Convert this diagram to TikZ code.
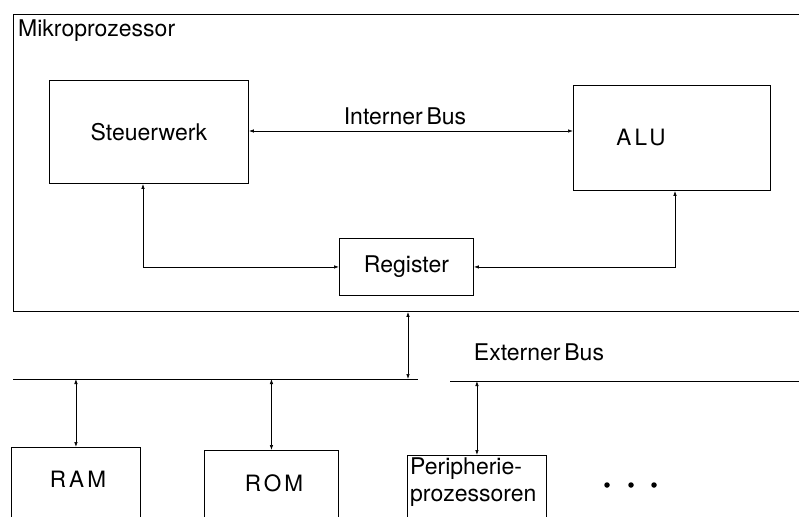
\documentclass[tikz,border=0pt]{standalone}
\usepackage{fontspec}
\setmainfont{TeX Gyre Heros}
\usetikzlibrary{arrows.meta}
\begin{document}
\begin{tikzpicture}[x=1pt,y=-1pt,
  box/.style={draw, line width=0.9pt, inner sep=0pt, anchor=north west},
  conn/.style={line width=0.7pt, {Latex[length=5pt,width=3.5pt]}-{Latex[length=5pt,width=3.5pt]}},
  busline/.style={line width=0.9pt},
  lbl/.style={font=\fontsize{23}{27}\selectfont, inner sep=0pt},
  wide/.style={font=\fontsize{22.5}{27}\selectfont\addfontfeature{LetterSpace=14}, inner sep=0pt},
  bullet/.style={circle, fill, inner sep=0pt, minimum size=5.5pt}]
\clip (0,0) rectangle (799,516);
\fill[white] (0,0) rectangle (799,516);
% Mikroprozessor frame (open to the right)
\node[box, minimum width=820pt, minimum height=297pt] (mp) at (13,14) {};
\node[lbl, anchor=west] (mptext) at (18,31) {Mikroprozessor};
% inner boxes
\node[box, minimum width=199pt, minimum height=103pt, lbl] (stw) at (49,80) {Steuerwerk};
\node[box, minimum width=197pt, minimum height=105pt] (alu) at (573,85) {};
\node[wide] (alutext) at (641,138) {ALU};
\node[box, minimum width=134pt, minimum height=57pt, lbl] (reg) at (339,238) {Register};
% internal bus
\coordinate (ib) at (0,131);
\draw[conn] (stw.east |- ib) -- (alu.west |- ib);
\node[lbl] (ibtext) at (405,116) {Interner\,Bus};
% register connections
\coordinate (sr) at (143,0);
\coordinate (ar) at (675,0);
\draw[conn] (stw.south -| sr) |- (reg.west);
\draw[conn] (alu.south -| ar) |- (reg.east);
% external bus
\coordinate (bl) at (13,379);
\coordinate (bm1) at (418,379);
\coordinate (bm2) at (450,381);
\coordinate (br) at (799,381);
\draw[busline] (bl) -- (bm1);
\draw[busline] (bm2) -- (br);
\node[lbl] (ebtext) at (539,352) {Externer\,Bus};
\coordinate (mb) at (408,0);
\draw[conn] (mp.south -| mb) -- (bl -| mb);
% lower boxes (open at the bottom edge)
\node[box, minimum width=129pt, minimum height=90pt] (ram) at (11,447) {};
\node[wide] (ramtext) at (78,479) {RAM};
\node[box, minimum width=134pt, minimum height=90pt] (rom) at (204,450) {};
\node[wide] (romtext) at (274,483) {ROM};
\node[box, minimum width=139pt, minimum height=90pt] (per) at (407,455) {};
\node[lbl, anchor=north west, align=left] (pertext) at (410,458) {Peripherie-\\prozessoren};
\draw[conn] (bl -| ram.north) -- (ram.north);
\draw[conn] (bl -| rom.north) -- (rom.north);
\draw[conn] (br -| per.north) -- (per.north);
% ellipsis
\node[bullet] (d1) at (607,485) {};
\node[bullet] (d2) at (631,485) {};
\node[bullet] (d3) at (654,485) {};
\end{tikzpicture}
\end{document}
